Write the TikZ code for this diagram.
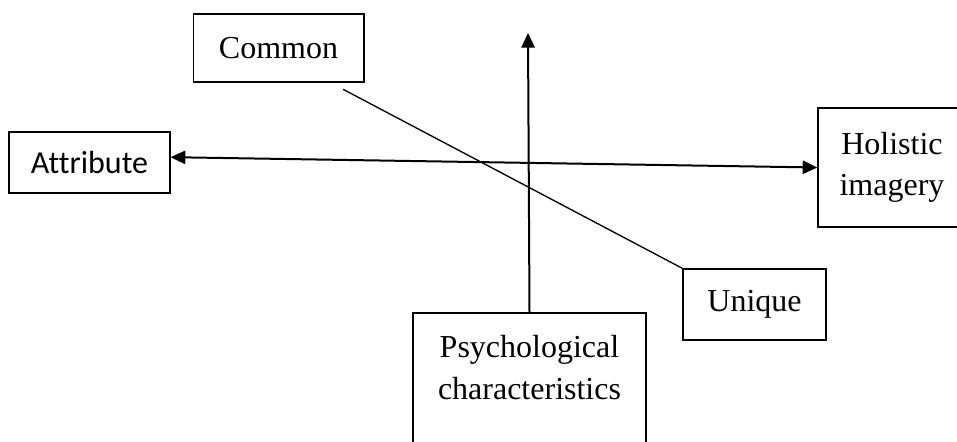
\documentclass[tikz,border=0pt]{standalone}
\usepackage{fontspec}
\setmainfont{Liberation Serif}
\newfontfamily\attrfont[Ligatures=NoCommon]{Carlito}
\usetikzlibrary{shapes,arrows.meta}
\tikzstyle{block} = [rectangle, draw, line width=1pt, align=center,
inner sep=0pt, font=\fontsize{24}{31}\selectfont]
\tikzstyle{line} = [draw, line width=1.5pt, >={Triangle[length=11pt,width=10pt]}, ->]
\tikzstyle{cross} = [draw, line width=1pt]

\begin{document}
\begin{tikzpicture}[x=0.75pt, y=-0.75pt]
\useasboundingbox (0,0) rectangle (957,442);

% Place nodes
\node [block, minimum width=128pt, minimum height=51pt] (common) at (278.5,48) {Common};
\node [block, font=\attrfont\fontsize{24}{31}\selectfont, minimum width=120.75pt,
minimum height=45.75pt] (attribute) at (89.5,162.5) {Attribute};
\node [block, minimum width=111pt, minimum height=89.25pt] (holistic) at (892,167.5) {Holistic\\imagery};
\node [block, minimum width=107.25pt, minimum height=53.25pt] (unique) at (754.5,304.5) {Unique};
\node [block, minimum width=174.75pt, minimum height=112.5pt] (psych) at (529.5,388) {Psychological\\characteristics\\\mbox{}};
\coordinate (top) at (528,33);
% Draw edges
\path [line] (psych.north) -- (top);
\path [line, <->] ([yshift=4pt]attribute.east) -- (holistic.west);
\path [cross] ([xshift=-16pt,yshift=-5pt]common.south east) -- (unique.north west);
\end{tikzpicture}
\end{document}
